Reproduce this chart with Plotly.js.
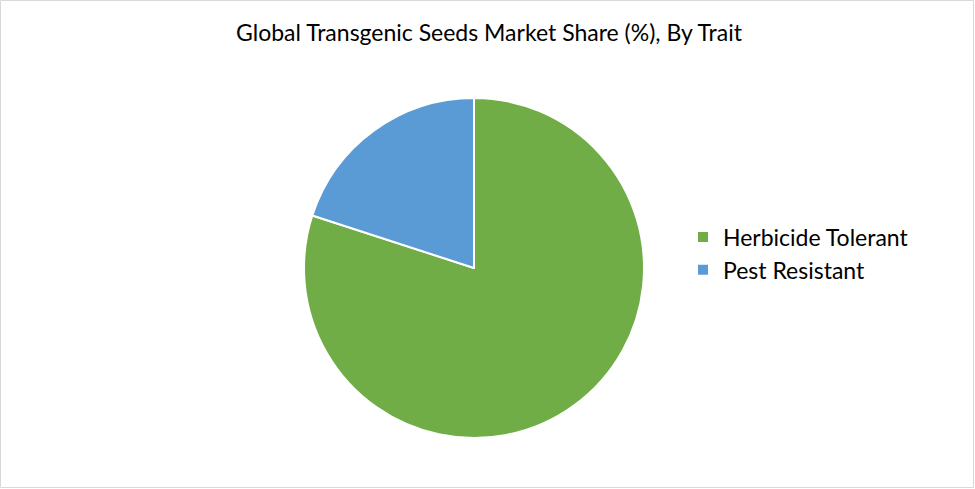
<!DOCTYPE html>
<html>
<head>
<meta charset="utf-8">
<script src="https://cdn.plot.ly/plotly-3.0.1.min.js"></script>
<style>
html, body { margin: 0; padding: 0; background: #fff; }
#chart { width: 975px; height: 489px; }
</style>
</head>
<body>
<div id="chart"></div>
<script>
const traits = ["Herbicide Tolerant", "Pest Resistant"];
const shares = [80, 20];
const sliceColors = ["#70AD47", "#5B9BD5"];

const W = 975, H = 489;
const cx = 474, cy = 268, r = 170;

const trace = {
  type: "pie",
  labels: traits,
  values: shares,
  sort: false,
  direction: "clockwise",
  rotation: 0,
  textinfo: "none",
  hoverinfo: "label+percent",
  marker: { colors: sliceColors, line: { color: "#ffffff", width: 2 } },
  domain: { x: [(cx - r) / W, (cx + r) / W], y: [(H - cy - r) / H, (H - cy + r) / H] }
};

const layout = {
  width: W, height: H,
  margin: { l: 0, r: 0, t: 0, b: 0 },
  paper_bgcolor: "#ffffff",
  font: { family: "Lato, 'Open Sans', sans-serif", color: "#000000" },
  title: {
    text: "Global Transgenic Seeds Market Share (%), By Trait",
    font: { family: "Lato, sans-serif", size: 23, color: "#000000" },
    x: 489 / W, xanchor: "center",
    y: 1 - 33 / H, yanchor: "middle"
  },
  showlegend: true,
  legend: {
    x: 683 / W, xanchor: "left",
    y: 1 - 253.5 / H, yanchor: "middle",
    font: { family: "Lato, sans-serif", size: 23, color: "#000000" },
    bgcolor: "rgba(0,0,0,0)"
  },
  shapes: [{
    type: "rect", xref: "paper", yref: "paper",
    x0: 0.5 / W, x1: 973.5 / W, y0: 1 - 487.5 / H, y1: 1 - 0.5 / H,
    line: { color: "#d9d9d9", width: 1 }, fillcolor: "rgba(0,0,0,0)"
  }]
};

Plotly.newPlot("chart", [trace], layout, { displayModeBar: false, staticPlot: true });
</script>
</body>
</html>
